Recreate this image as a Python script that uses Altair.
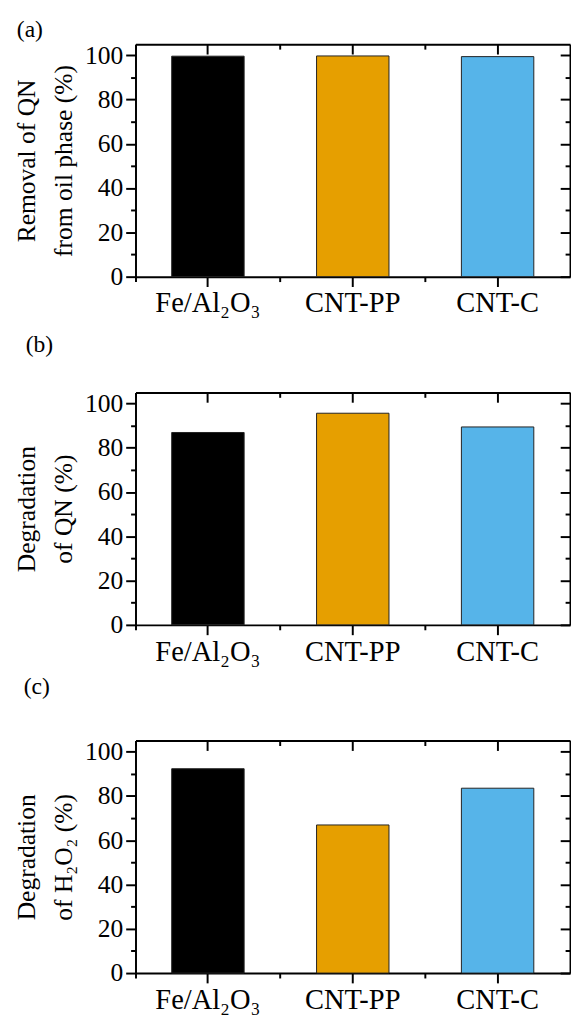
import altair as alt
import pandas as pd

categories = ["Fe/Al₂O₃", "CNT-PP", "CNT-C"]
colors = ["#000000", "#E69F00", "#56B4E9"]
removal_qn = [99.6, 99.7, 99.4]
degradation_qn = [86.9, 95.6, 89.4]
degradation_h2o2 = [92.3, 66.9, 83.5]
major_ticks = [0, 20, 40, 60, 80, 100]
minor_ticks = [10, 30, 50, 70, 90]

FONT = "Liberation Serif"
W, H = 443, 237


def panel(values, ytitle, tag, tag_dx, tag_offset):
    df = pd.DataFrame({"cat": categories, "val": values})
    base = alt.Chart(df)
    xs = alt.Scale(domain=categories, paddingInner=0.5, paddingOuter=0.25)
    ys = alt.Scale(domain=[0, 105], nice=False, zero=True)

    def X(axis):
        return alt.X("cat:N", sort=categories, scale=xs, axis=axis)

    def Y(axis):
        return alt.Y("val:Q", scale=ys, axis=axis)

    common = dict(domain=False, tickColor="black", tickWidth=2, grid=False)
    frame = dict(domain=True, domainColor="black", domainWidth=2,
                 ticks=False, labels=False, grid=False, title=None)

    bars = base.mark_bar(stroke="#222222", strokeWidth=1).encode(
        x=X(alt.Axis(orient="bottom", title=None, labelAngle=0, tickSize=10,
                     labelFont=FONT, labelFontSize=29, labelColor="black",
                     labelPadding=3, **common)),
        y=Y(alt.Axis(orient="left", values=major_ticks, tickSize=10,
                     labelFont=FONT, labelFontSize=26, labelColor="black",
                     labelPadding=3, title=ytitle, titleFont=FONT,
                     titleFontSize=26, titleFontWeight="normal",
                     titleColor="black", titleLineHeight=38,
                     titlePadding=8, **common)),
        color=alt.Color("cat:N", scale=alt.Scale(domain=categories, range=colors),
                        legend=None),
    )
    minor = base.mark_bar(opacity=0).encode(
        x=X(alt.Axis(orient="bottom", title=None, labels=False, tickSize=5,
                     bandPosition=-0.5, **common)),
        y=Y(alt.Axis(orient="left", values=minor_ticks, labels=False,
                     tickSize=5, title=None, **common)),
    )
    top = base.mark_bar(opacity=0).encode(
        x=X(alt.Axis(orient="top", title=None, labels=False, tickSize=10,
                     offset=-10, **common)),
        y=Y(alt.Axis(orient="right", values=major_ticks, labels=False,
                     tickSize=10, offset=-10, title=None, **common)),
    )
    top_minor = base.mark_bar(opacity=0).encode(
        x=X(alt.Axis(orient="top", title=None, labels=False, tickSize=5,
                     offset=-5, bandPosition=-0.5, **common)),
        y=Y(alt.Axis(orient="right", values=minor_ticks, labels=False,
                     tickSize=5, offset=-5, title=None, **common)),
    )
    box_tr = base.mark_bar(opacity=0).encode(
        x=X(alt.Axis(orient="top", **frame)),
        y=Y(alt.Axis(orient="right", **frame)),
    )
    box_bl = base.mark_bar(opacity=0).encode(
        x=X(alt.Axis(orient="bottom", **frame)),
        y=Y(alt.Axis(orient="left", **frame)),
    )
    return alt.layer(bars, minor, top, top_minor, box_tr, box_bl).resolve_axis(
        x="independent", y="independent"
    ).properties(
        width=W, height=H,
        title=alt.TitleParams(tag, anchor="start", frame="group", dx=tag_dx,
                              offset=tag_offset, font=FONT, fontSize=24,
                              fontWeight="normal", color="black"),
    )


pa = panel(removal_qn, ["Removal of QN", "from oil phase (%)"], "(a)", -121, 1)
pb = panel(degradation_qn, ["Degradation", "of QN (%)"], "(b)", -112, 34)
pc = panel(degradation_h2o2, ["Degradation", "of H₂O₂ (%)"], "(c)", -114, 41)

chart = alt.vconcat(pa, pb, pc, spacing=118, bounds="flush").properties(
    padding={"left": 6, "top": 0, "right": 0, "bottom": 0}
).configure(
    background="white",
    view=alt.ViewConfig(stroke=None),
)

chart.save("out.html", embed_options={"renderer": "svg", "actions": False})
